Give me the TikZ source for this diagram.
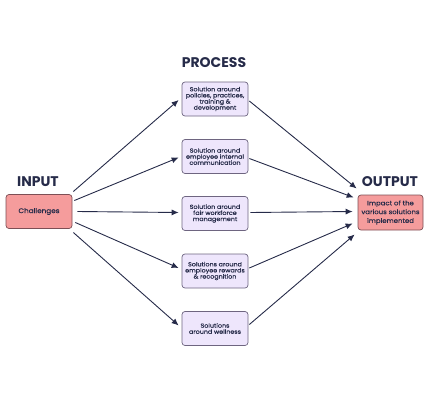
\documentclass[tikz,border=0pt]{standalone}
\usepackage{fontspec}
\setmainfont{Poppins}
\newfontfamily\boxfont[FakeStretch=1.1,FakeBold=0.6]{Poppins}
\usetikzlibrary{arrows.meta,calc}
\definecolor{navy}{HTML}{262B49}
\definecolor{procfill}{HTML}{EEE6FC}
\definecolor{procborder}{HTML}{6E6580}
\definecolor{pinkfill}{HTML}{F59C9C}
\definecolor{pinkborder}{HTML}{7D4F55}
\begin{document}
\begin{tikzpicture}[x=1pt,y=-1pt,
 proc/.style={draw=procborder, fill=procfill, rounded corners=3pt, line width=0.7pt,
   minimum width=66pt, minimum height=34pt, align=center, inner sep=1pt,
   font=\boxfont\fontsize{5.8}{6.1}\selectfont, text=navy},
 io/.style={draw=pinkborder, fill=pinkfill, rounded corners=3pt, line width=0.7pt,
   minimum width=66pt, minimum height=34pt, align=center, inner sep=1pt, text=navy},
 ttl/.style={font=\fontsize{14}{15}\selectfont\bfseries, text=navy},
 arr/.style={draw=navy, line width=0.9pt, -{Latex[length=7pt,width=6pt]}}]
\useasboundingbox (0,0) rectangle (429,402);
\node[ttl] (tp) at (214,63) {PROCESS};
\node[ttl] (ti) at (38,182) {INPUT};
\node[ttl] (to) at (390,182) {OUTPUT};
\node[io, font=\boxfont\fontsize{6.6}{7}\selectfont] (in) at (39,211.5) {Challenges};
\node[io, minimum height=35pt, minimum width=65pt, font=\boxfont\fontsize{6.3}{8.8}\selectfont] (out) at (390.5,212.5) {Impact of the\\various solutions\\implemented};
\node[proc] (p1) at (215,99) {Solution around\\policies, practices,\\training \&\\development};
\node[proc] (p2) at (215,156.5) {Solution around\\employee internal\\communication};
\node[proc] (p3) at (215,213.5) {Solution around\\fair workforce\\management};
\node[proc] (p4) at (215,271) {Solutions around\\employee rewards\\\& recognition};
\node[proc] (p5) at (215,328.5) {Solutions\\around wellness};
\draw[arr] ($(in.east)+(1,-20)$) -- ($(p1.west)+(-3,1)$);
\draw[arr] ($(in.east)+(2,-11)$) -- ($(p2.west)+(-3,1)$);
\draw[arr] ($(in.east)+(5,0)$) -- ($(p3.west)+(-3,-1)$);
\draw[arr] ($(in.east)+(3,11)$) -- ($(p4.west)+(-3,-3)$);
\draw[arr] ($(in.east)+(1,21)$) -- ($(p5.west)+(-3,-3)$);
\draw[arr] ($(p1.east)+(1,2)$) -- ($(out.west)+(-1,-24)$);
\draw[arr] ($(p2.east)+(1,2)$) -- ($(out.west)+(-4,-15)$);
\draw[arr] ($(p3.east)+(2,-1)$) -- ($(out.west)+(-5,-1)$);
\draw[arr] ($(p4.east)+(1,-3)$) -- ($(out.west)+(-5,11)$);
\draw[arr] ($(p5.east)+(1,-4)$) -- ($(out.west)+(-3,22)$);
\end{tikzpicture}
\end{document}
